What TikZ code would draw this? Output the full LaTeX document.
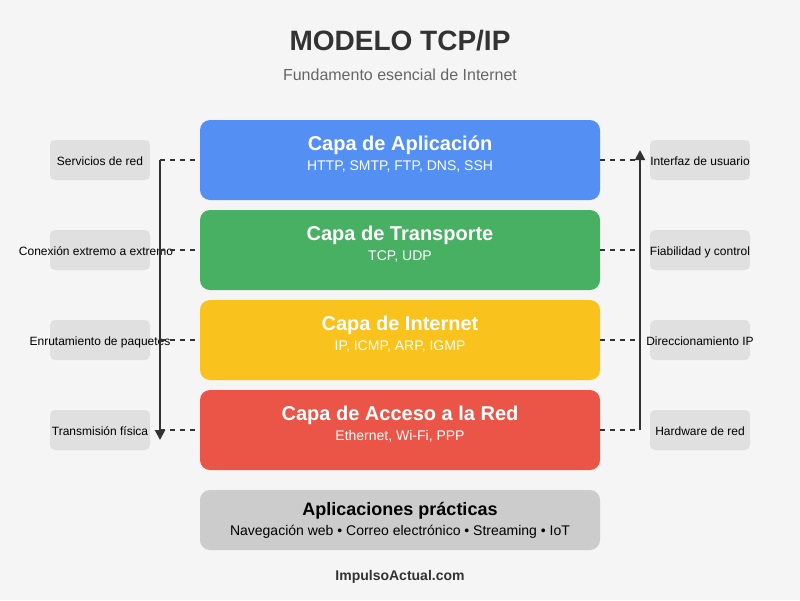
\documentclass[tikz,border=0pt]{standalone}
\usepackage{fontspec}
\setmainfont{Liberation Sans}
\usetikzlibrary{arrows.meta}
\definecolor{fondo}{HTML}{F5F5F5}
\definecolor{azul}{HTML}{5490F4}
\definecolor{verde}{HTML}{47B063}
\definecolor{amarillo}{HTML}{FAC21D}
\definecolor{rojo}{HTML}{EB5548}
\definecolor{gris}{HTML}{CCCCCC}
\definecolor{grisclaro}{HTML}{E0E0E0}
\definecolor{oscuro}{HTML}{333333}
\definecolor{medio}{HTML}{666666}
\newcommand{\tam}[1]{\fontsize{#1}{#1}\selectfont}
\tikzset{
  capa/.style={draw=none,rounded corners=10pt,minimum width=400pt,minimum height=80pt,inner sep=0pt},
  lado/.style={fill=grisclaro,rounded corners=5pt,minimum width=100pt,minimum height=40pt,inner sep=0pt},
  ladotxt/.style={anchor=base,inner sep=0pt,text=black,font=\tam{12}},
  titulo/.style={anchor=base,inner sep=0pt,text=white,font=\tam{20}\bfseries},
  protocolos/.style={anchor=base,inner sep=0pt,text=white,font=\tam{14}},
  enlace/.style={oscuro,line width=2pt,dash pattern=on 5pt off 5pt},
  flecha/.style={oscuro,line width=2pt,-{Triangle[length=10pt,width=10pt]}}
}
\begin{document}
\begin{tikzpicture}[x=1pt,y=-1pt]
  \fill[fondo] (0,0) rectangle (800,600);
  \useasboundingbox (0,0) rectangle (800,600);
  % Encabezado
  \node[anchor=base,inner sep=0pt,text=oscuro,font=\tam{28}\bfseries] (encabezado) at (400,50) {MODELO TCP/IP};
  \node[anchor=base,inner sep=0pt,text=medio,font=\tam{16}] (subtitulo) at (400,80) {Fundamento esencial de Internet};
  % Capas
  \node[capa,fill=azul] (aplicacion) at (400,160) {};
  \node[capa,fill=verde] (transporte) at (400,250) {};
  \node[capa,fill=amarillo] (internet) at (400,340) {};
  \node[capa,fill=rojo] (acceso) at (400,430) {};
  \node[titulo] (aplicacionT) at (400,150) {Capa de Aplicación};
  \node[protocolos] (aplicacionP) at (400,170) {HTTP, SMTP, FTP, DNS, SSH};
  \node[titulo] (transporteT) at (400,240) {Capa de Transporte};
  \node[protocolos] (transporteP) at (400,260) {TCP, UDP};
  \node[titulo] (internetT) at (400,330) {Capa de Internet};
  \node[protocolos] (internetP) at (400,350) {IP, ICMP, ARP, IGMP};
  \node[titulo] (accesoT) at (400,420) {Capa de Acceso a la Red};
  \node[protocolos] (accesoP) at (400,440) {Ethernet, Wi-Fi, PPP};
  % Cajas laterales
  \node[lado] (servicios) at (100,160) {};
  \node[lado] (conexion) at (100,250) {};
  \node[lado] (enrutamiento) at (100,340) {};
  \node[lado] (transmision) at (100,430) {};
  \node[lado] (interfaz) at (700,160) {};
  \node[lado] (fiabilidad) at (700,250) {};
  \node[lado] (direccionamiento) at (700,340) {};
  \node[lado] (hardware) at (700,430) {};
  \node[ladotxt] (serviciosT) at (100,165) {Servicios de red};
  \node[ladotxt] (conexionT) at (96,255) {Conexión extremo a extremo};
  \node[ladotxt] (enrutamientoT) at (100,345) {Enrutamiento de paquetes};
  \node[ladotxt] (transmisionT) at (100,435) {Transmisión física};
  \node[ladotxt] (interfazT) at (700,165) {Interfaz de usuario};
  \node[ladotxt] (fiabilidadT) at (700,255) {Fiabilidad y control};
  \node[ladotxt] (direccionamientoT) at (700,345) {Direccionamiento IP};
  \node[ladotxt] (hardwareT) at (700,435) {Hardware de red};
  % Ejes
  \coordinate (izqA) at (160,160);
  \coordinate (izqB) at (160,250);
  \coordinate (izqC) at (160,340);
  \coordinate (izqD) at (160,430);
  \coordinate (izqFin) at (160,440);
  \coordinate (derA) at (640,160);
  \coordinate (derB) at (640,250);
  \coordinate (derC) at (640,340);
  \coordinate (derD) at (640,430);
  \coordinate (derFin) at (640,150);
  \draw[enlace] (izqA)--(aplicacion.west);
  \draw[enlace] (izqB)--(transporte.west);
  \draw[enlace] (izqC)--(internet.west);
  \draw[enlace] (izqD)--(acceso.west);
  \draw[enlace] (aplicacion.east)--(derA);
  \draw[enlace] (transporte.east)--(derB);
  \draw[enlace] (internet.east)--(derC);
  \draw[enlace] (acceso.east)--(derD);
  \draw[flecha] (izqA)--(izqFin);
  \draw[flecha] (derD)--(derFin);
  % Aplicaciones
  \node[fill=gris,rounded corners=10pt,minimum width=400pt,minimum height=60pt,inner sep=0pt] (practicas) at (400,520) {};
  \node[anchor=base,inner sep=0pt,text=black,font=\tam{18}\bfseries] (practicasT) at (400,515) {Aplicaciones prácticas};
  \node[anchor=base,inner sep=0pt,text=black,font=\tam{14}] (practicasP) at (400,535) {Navegación web • Correo electrónico • Streaming • IoT};
  \node[anchor=base,inner sep=0pt,text=oscuro,font=\tam{14}\bfseries] (pie) at (400,580) {ImpulsoActual.com};
\end{tikzpicture}
\end{document}
